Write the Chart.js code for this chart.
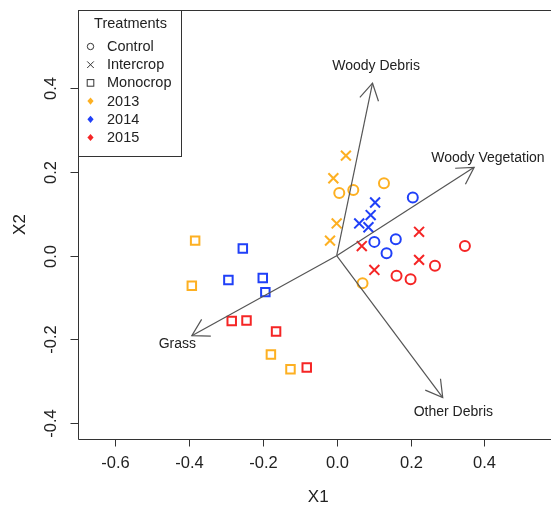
<!DOCTYPE html>
<html><head><meta charset="utf-8">
<script src="https://cdn.jsdelivr.net/npm/chart.js@4"></script>
<style>html,body{margin:0;padding:0;background:#fff}canvas{display:block}</style>
</head><body>
<canvas id="c" width="551" height="508"></canvas>
<script>
// Site scores (X1, X2) by year and treatment
const control2013   = [[0.007,0.150],[0.045,0.157],[0.128,0.173],[0.070,-0.066]];
const intercrop2013 = [[0.025,0.239],[-0.009,0.185],[0.000,0.077],[-0.018,0.036]];
const monocrop2013  = [[-0.383,0.036],[-0.392,-0.072],[-0.178,-0.236],[-0.125,-0.271]];
const control2014   = [[0.102,0.033],[0.160,0.039],[0.135,0.006],[0.206,0.139]];
const intercrop2014 = [[0.104,0.127],[0.092,0.097],[0.061,0.077],[0.086,0.068]];
const monocrop2014  = [[-0.254,0.017],[-0.293,-0.058],[-0.200,-0.053],[-0.193,-0.087]];
const control2015   = [[0.347,0.023],[0.266,-0.024],[0.162,-0.048],[0.200,-0.056]];
const intercrop2015 = [[0.223,0.057],[0.068,0.023],[0.223,-0.010],[0.102,-0.034]];
const monocrop2015  = [[-0.284,-0.156],[-0.244,-0.155],[-0.164,-0.181],[-0.081,-0.267]];

// Environmental vectors (arrow tips)
const envNames = ['Woody Debris','Woody Vegetation','Grass','Other Debris'];
const envX = [0.097,0.372,-0.392,0.287];
const envY = [0.412,0.211,-0.191,-0.339];

const xTicks = [-0.6,-0.4,-0.2,0.0,0.2,0.4];
const yTicks = [-0.4,-0.2,0.0,0.2,0.4];
const treatments = ['Control','Intercrop','Monocrop'];
const years = ['2013','2014','2015'];

const yearColors = ['#FDB022','#2040F8','#F52525'];
const shapeStyle = {
  Control:   {pointStyle:'circle',   radius:5},
  Intercrop: {pointStyle:'crossRot', radius:7},
  Monocrop:  {pointStyle:'rect',     radius:6}
};
const seriesByYear = [
  [control2013, intercrop2013, monocrop2013],
  [control2014, intercrop2014, monocrop2014],
  [control2015, intercrop2015, monocrop2015]
];

const FONT = '"Liberation Sans", Arial, Helvetica, sans-serif';
const INK = '#222';

const datasets = [];
// vectors first so they sit on top of the site points
envNames.forEach((name, i) => {
  datasets.push({
    type: 'line', label: name,
    data: [{x:0, y:0}, {x:envX[i], y:envY[i]}],
    borderColor: '#555', borderWidth: 1.2,
    pointRadius: 0, showLine: true, fill: false, tension: 0
  });
});
years.forEach((yr, yi) => {
  treatments.forEach((tr, ti) => {
    datasets.push({
      label: tr + ' ' + yr,
      data: seriesByYear[yi][ti].map(p => ({x:p[0], y:p[1]})),
      pointStyle: shapeStyle[tr].pointStyle,
      pointRadius: shapeStyle[tr].radius,
      pointHoverRadius: shapeStyle[tr].radius,
      borderColor: yearColors[yi],
      backgroundColor: 'rgba(0,0,0,0)',
      pointBorderWidth: 2,
      showLine: false
    });
  });
});

const rPlot = {
  id: 'rPlot',
  afterDatasetsDraw(chart) {
    const ctx = chart.ctx;
    const xs = chart.scales.x, ys = chart.scales.y;
    const a = chart.chartArea;
    ctx.save();

    // arrowheads and vector labels
    ctx.strokeStyle = '#555'; ctx.lineWidth = 1.2;
    ctx.fillStyle = INK;
    ctx.font = '14px ' + FONT;
    ctx.textAlign = 'center'; ctx.textBaseline = 'middle';
    const x0 = xs.getPixelForValue(0), y0 = ys.getPixelForValue(0);
    envNames.forEach((name, i) => {
      const tx = xs.getPixelForValue(envX[i]), ty = ys.getPixelForValue(envY[i]);
      const ang = Math.atan2(ty - y0, tx - x0);
      const L = 19, h = Math.PI / 6;
      ctx.beginPath();
      ctx.moveTo(tx - L*Math.cos(ang - h), ty - L*Math.sin(ang - h));
      ctx.lineTo(tx, ty);
      ctx.lineTo(tx - L*Math.cos(ang + h), ty - L*Math.sin(ang + h));
      ctx.stroke();
      ctx.fillText(name, xs.getPixelForValue(envX[i]*1.1), ys.getPixelForValue(envY[i]*1.1));
    });

    // frame (right side runs past the canvas edge)
    ctx.strokeStyle = '#333'; ctx.lineWidth = 1;
    ctx.beginPath();
    ctx.moveTo(a.right + 2, Math.round(a.top) + 0.5);
    ctx.lineTo(Math.round(a.left) + 0.5, Math.round(a.top) + 0.5);
    ctx.lineTo(Math.round(a.left) + 0.5, Math.round(a.bottom) + 0.5);
    ctx.lineTo(a.right + 2, Math.round(a.bottom) + 0.5);
    ctx.stroke();

    // x axis ticks and labels
    ctx.font = '16.5px ' + FONT;
    ctx.fillStyle = INK;
    ctx.textAlign = 'center'; ctx.textBaseline = 'middle';
    xTicks.forEach(v => {
      const px = Math.round(xs.getPixelForValue(v)) + 0.5;
      ctx.beginPath();
      ctx.moveTo(px, a.bottom); ctx.lineTo(px, a.bottom + 7.5);
      ctx.stroke();
      ctx.fillText(v.toFixed(1), px, a.bottom + 24);
    });
    // y axis ticks and rotated labels
    yTicks.forEach(v => {
      const py = Math.round(ys.getPixelForValue(v)) + 0.5;
      ctx.beginPath();
      ctx.moveTo(a.left - 7.5, py); ctx.lineTo(a.left, py);
      ctx.stroke();
      ctx.save();
      ctx.translate(a.left - 26.5, py);
      ctx.rotate(-Math.PI / 2);
      ctx.fillText(v.toFixed(1), 0, 0);
      ctx.restore();
    });
    // axis titles, centred on the full plotting region
    ctx.font = '17px ' + FONT;
    ctx.fillText('X1', xs.getPixelForValue(-0.05), 497);
    ctx.save();
    ctx.translate(20, (a.top + a.bottom) / 2);
    ctx.rotate(-Math.PI / 2);
    ctx.fillText('X2', 0, 0);
    ctx.restore();

    // legend box
    const lx = Math.round(a.left) + 0.5, ly = Math.round(a.top) + 0.5;
    const lw = 103, lh = 146;
    ctx.fillStyle = '#fff';
    ctx.fillRect(lx, ly, lw, lh);
    ctx.strokeStyle = '#333';
    ctx.strokeRect(lx, ly, lw, lh);
    ctx.fillStyle = INK;
    ctx.font = '14.5px ' + FONT;
    ctx.textAlign = 'center';
    ctx.fillText('Treatments', lx + 52, ly + 13);
    ctx.textAlign = 'left';
    const items = treatments.concat(years);
    items.forEach((lab, k) => {
      const yy = ly + 36 + k * 18.2;
      const sx = lx + 12;
      ctx.lineWidth = 1;
      ctx.strokeStyle = '#333';
      if (k === 0) {
        ctx.beginPath(); ctx.arc(sx, yy, 3.2, 0, Math.PI*2); ctx.stroke();
      } else if (k === 1) {
        ctx.beginPath();
        ctx.moveTo(sx-3.3, yy-3.3); ctx.lineTo(sx+3.3, yy+3.3);
        ctx.moveTo(sx+3.3, yy-3.3); ctx.lineTo(sx-3.3, yy+3.3);
        ctx.stroke();
      } else if (k === 2) {
        ctx.strokeRect(sx-3.3, yy-3.3, 6.6, 6.6);
      } else {
        ctx.fillStyle = yearColors[k-3];
        ctx.beginPath();
        ctx.moveTo(sx, yy-3.6); ctx.lineTo(sx+3.1, yy);
        ctx.lineTo(sx, yy+3.6); ctx.lineTo(sx-3.1, yy);
        ctx.closePath(); ctx.fill();
        ctx.fillStyle = INK;
      }
      ctx.fillText(lab, lx + 28.5, yy + 0.5);
    });
    ctx.restore();
  }
};

new Chart(document.getElementById('c'), {
  type: 'scatter',
  data: { datasets },
  options: {
    responsive: false,
    devicePixelRatio: 1,
    animation: false,
    layout: { autoPadding: false, padding: { top: 10, left: 0, right: 0, bottom: 0 } },
    plugins: { legend: { display: false }, tooltip: { enabled: false } },
    scales: {
      x: {
        type: 'linear', min: -0.700, max: 0.580,
        grid: { display: false }, border: { display: false },
        ticks: { display: false },
        afterFit(s) { s.height = 69; s.paddingLeft = 0; s.paddingRight = 0; }
      },
      y: {
        type: 'linear', min: -0.4378, max: 0.5868,
        grid: { display: false }, border: { display: false },
        ticks: { display: false },
        afterFit(s) { s.width = 78; s.paddingTop = 0; s.paddingBottom = 0; }
      }
    }
  },
  plugins: [rPlot]
});
</script>
</body></html>
